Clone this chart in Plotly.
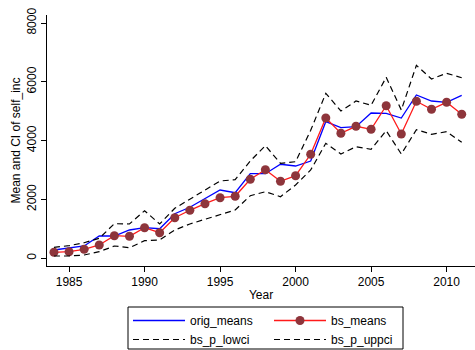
import plotly.graph_objects as go

years = list(range(1984, 2012))
orig_means = [282, 340, 418, 758, 758, 962, 1040, 1006, 1516, 1734, 2026, 2322, 2230, 2876,
              2876, 3196, 3138, 3308, 4644, 4440, 4474, 4940, 4930, 4770, 5552, 5348, 5304, 5542]
bs_means = [204, 224, 306, 452, 768, 748, 1040, 870, 1380, 1632, 1856, 2060, 2108, 2686,
            3012, 2618, 2808, 3536, 4770, 4250, 4488, 4386, 5188, 4226, 5338, 5066, 5304, 4896]
bs_p_lowci = [78, 78, 112, 224, 418, 360, 598, 622, 962, 1166, 1326, 1496, 1642, 2128,
              2264, 2094, 2492, 3002, 3910, 3546, 3794, 3706, 4338, 3546, 4372, 4216, 4304, 3944]
bs_p_uppci = [374, 428, 530, 680, 1176, 1166, 1618, 1166, 1700, 2016, 2322, 2628, 2672, 3308,
              3828, 3230, 3284, 4350, 5610, 5008, 5348, 5202, 6154, 5042, 6562, 6096, 6290, 6140]
y_ticks = [0, 2000, 4000, 6000, 8000]
x_ticks = [1985, 1990, 1995, 2000, 2005, 2010]

FONT = "Liberation Sans, Arial, sans-serif"
W, H = 475, 350
ML, MR, MT, MB = 47, 0, 15, 84
PW, PH = W - ML - MR, H - MT - MB


def px_x(p):
    return (p - ML) / PW


def px_y(p):
    return (H - MB - p) / PH


fig = go.Figure()
fig.add_trace(go.Scatter(x=years, y=orig_means, name="orig_means", mode="lines",
                         line=dict(color="#0000FF", width=1.3), cliponaxis=False,
                         legend="legend"))
fig.add_trace(go.Scatter(x=years, y=bs_means, name="bs_means", mode="lines+markers",
                         line=dict(color="#FF1A1A", width=1.3), cliponaxis=False,
                         marker=dict(color="#8E353B", size=9), legend="legend2"))
fig.add_trace(go.Scatter(x=years, y=bs_p_lowci, name="bs_p_lowci", mode="lines",
                         line=dict(color="black", width=1.2, dash="6px,4px"), cliponaxis=False,
                         legend="legend"))
fig.add_trace(go.Scatter(x=years, y=bs_p_uppci, name="bs_p_uppci", mode="lines",
                         line=dict(color="black", width=1.2, dash="6px,4px"), cliponaxis=False,
                         legend="legend2"))

leg_common = dict(orientation="v", yanchor="top", xanchor="left",
                  bgcolor="rgba(0,0,0,0)", borderwidth=0,
                  font=dict(size=12), itemwidth=52, tracegroupgap=0)

fig.update_layout(
    width=W, height=H,
    margin=dict(l=ML, r=MR, t=MT, b=MB, autoexpand=False),
    paper_bgcolor="white", plot_bgcolor="white",
    font=dict(family=FONT, size=12, color="black"),
    xaxis=dict(range=[1983.54, 2011.88], tickvals=x_ticks, showgrid=False, zeroline=False,
               showline=True, linecolor="black", linewidth=1, ticks="outside",
               ticklen=5, tickcolor="black", automargin=False,
               title=dict(text="Year", font=dict(size=12), standoff=2)),
    yaxis=dict(range=[-262, 8272], tickvals=y_ticks, showgrid=False, zeroline=False,
               showline=True, linecolor="black", linewidth=1, ticks="outside",
               ticklen=5, tickcolor="black", tickangle=-90, automargin=False,
               title=dict(text="Mean and CI of self_inc", font=dict(size=12), standoff=2)),
    showlegend=True,
    legend=dict(x=px_x(128), y=px_y(306), **leg_common),
    legend2=dict(x=px_x(269), y=px_y(306), **leg_common),
    shapes=[dict(type="rect", xref="paper", yref="paper",
                 x0=px_x(128), x1=px_x(403), y0=px_y(349), y1=px_y(307),
                 line=dict(color="black", width=1), fillcolor="rgba(0,0,0,0)")],
)

fig.write_html("out.html", config={"displayModeBar": False},
               post_script="document.body.style.margin='0';")
